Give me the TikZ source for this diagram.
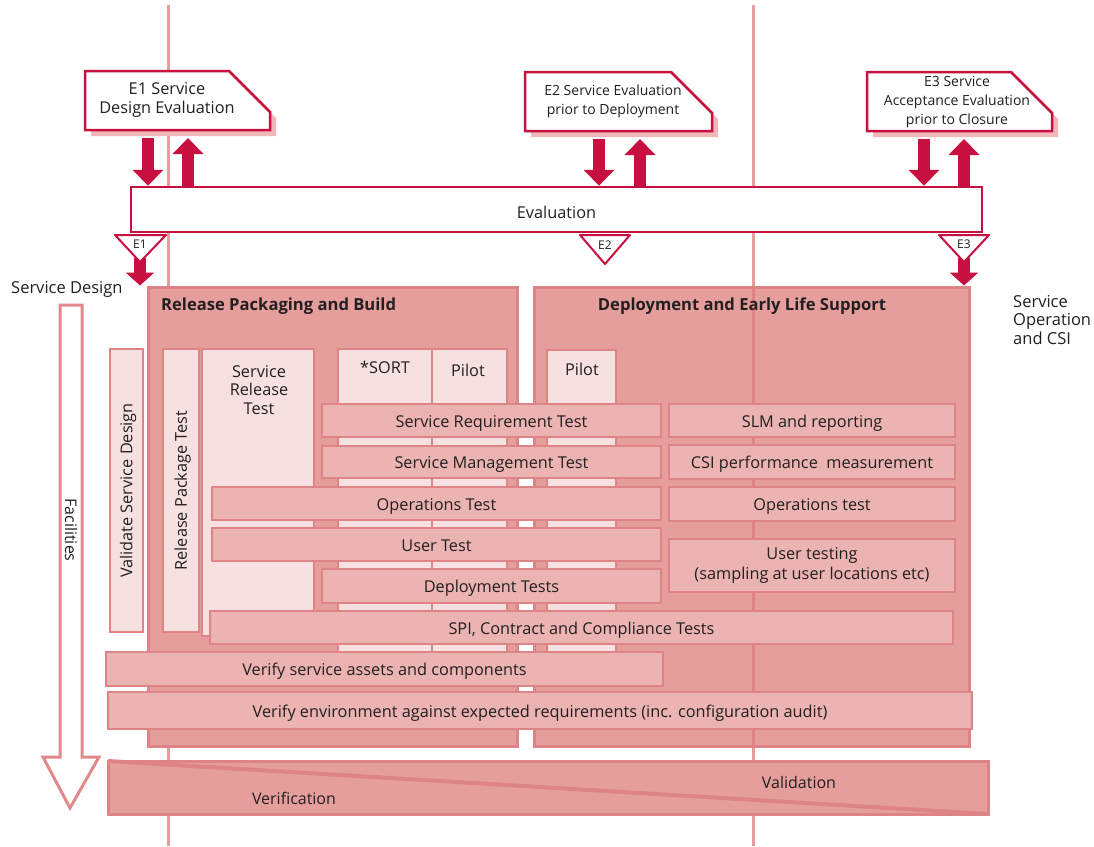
\documentclass[tikz,border=0pt]{standalone}
\usepackage{fontspec}
\setmainfont{Open Sans}
\usetikzlibrary{arrows.meta}
\definecolor{crim}{HTML}{C81040}
\definecolor{pfill}{HTML}{E59E9C}
\definecolor{pline}{HTML}{DE8386}
\definecolor{bfill}{HTML}{EBB3B1}
\definecolor{cfill}{HTML}{F7E1E0}
\definecolor{eshad}{HTML}{F0B8B8}
\definecolor{txt}{HTML}{231F20}
\definecolor{farrow}{HTML}{E08A8C}
\newcommand\fsz[2]{\fontsize{#1}{#2}\selectfont}
\newcommand\drawebox[1]{%
  \fill[eshad] ([shift={(6,6)}]#1.south west) -- ([shift={(6,6)}]#1.south east) -- ([shift={(6,47)}]#1.north east) -- ([shift={(-35,6)}]#1.north east) -- ([shift={(6,6)}]#1.north west) -- cycle;
  \draw[draw=crim,line width=2.5pt,fill=white] (#1.south west) -- (#1.south east) -- ([shift={(0,41)}]#1.north east) -- ([shift={(-41,0)}]#1.north east) -- (#1.north west) -- cycle;}
\begin{document}
\begin{tikzpicture}[x=1pt,y=-1pt,
  every node/.style={text=txt},
  wh/.style 2 args={minimum width=#1pt,minimum height=#2pt},
  einv/.style={rectangle,inner sep=0pt,outer sep=0pt},
  ebar/.style={draw=crim,line width=2.5pt,fill=white,rectangle,inner sep=0pt},
  panel/.style={draw=pline,fill=pfill,line width=3pt,rectangle,inner sep=0pt},
  colbox/.style={draw=pline,fill=cfill,line width=2.5pt,rectangle,inner sep=0pt},
  bar/.style={draw=pline,fill=bfill,line width=2.5pt,rectangle,inner sep=0pt,font=\fsz{16.3}{20},align=center},
  onel/.style={text height=15pt,text depth=1.4pt},
  rotl/.style={text height=13pt,text depth=1.4pt},
  lbl/.style={font=\fsz{16.3}{18.5},align=center,inner sep=0pt},
  bigarr/.style={draw=crim,line width=12pt,-{Triangle[length=16pt,width=30pt]}},
  triarr/.style={draw=crim,line width=12pt,-{Triangle[length=13pt,width=28pt]}},
  tri/.style={draw=crim,line width=2pt,fill=white,line join=round},
  vline/.style={draw=pfill,line width=3pt},
]
\useasboundingbox (0,0) rectangle (1094,846);
\fill[white] (0,0) rectangle (1094,846);
% vertical guide lines
\coordinate (lt) at (168,5); \coordinate (lb) at (168,846);
\coordinate (rt) at (753,5); \coordinate (rb) at (753,846);
\draw[vline] (lt) -- (lb);
\draw[vline] (rt) -- (rb);
% evaluation boxes
\node[einv,wh={185}{59}] (e1) at (177.5,100.5) {};
\node[einv,wh={187}{59}] (e2) at (618.5,101.5) {};
\node[einv,wh={185}{59}] (e3) at (959.5,101.5) {};
\drawebox{e1}\drawebox{e2}\drawebox{e3}
\node[lbl,font=\fsz{16.3}{19}] (e1t) at (167,100) {E1 Service\\Design Evaluation};
\node[lbl,font=\fsz{14}{19}] (e2t) at (613,101) {E2 Service Evaluation\\prior to Deployment};
\node[lbl,font=\fsz{14}{19}] (e3t) at (957,102) {E3 Service\\Acceptance Evaluation\\prior to Closure};
\node[ebar,wh={851}{45},font=\fsz{16.3}{19},text height=17pt,text depth=0pt] (eval) at (556.5,209.5) {Evaluation};
\coordinate (a1) at (148,0); \coordinate (b1) at (188,0);
\coordinate (a2) at (599,0); \coordinate (b2) at (640,0);
\coordinate (a3) at (924,0); \coordinate (b3) at (964,0);
\draw[bigarr,shorten <=8pt] (e1.south -| a1) -- (eval.north -| a1);
\draw[bigarr,shorten >=8pt] (eval.north -| b1) -- (e1.south -| b1);
\draw[bigarr,shorten <=8pt] (e2.south -| a2) -- (eval.north -| a2);
\draw[bigarr,shorten >=8pt] (eval.north -| b2) -- (e2.south -| b2);
\draw[bigarr,shorten <=8pt] (e3.south -| a3) -- (eval.north -| a3);
\draw[bigarr,shorten >=8pt] (eval.north -| b3) -- (e3.south -| b3);
% side labels
\node[anchor=west,inner sep=0pt,font=\fsz{16.5}{19}] (sd) at (11,289) {Service Design};
\node[anchor=north west,inner sep=0pt,align=left,font=\fsz{16.5}{18.5}] (soc) at (1013,295) {Service\\Operation\\and CSI};
% facilities arrow
\draw[draw=farrow,line width=3pt,fill=white] (60,305) -- (82,305) -- (82,757) -- (99,757) -- (70,808) -- (43,757) -- (60,757) -- cycle;
\node[rotate=-90,inner sep=0pt,font=\fsz{16}{18},rotl] (fac) at (71,530) {Facilities};
\node[colbox,wh={283}{33},rotate=90,font=\fsz{16.3}{18},rotl] (vsd) at (126.5,490.5) {Validate Service Design};
% panels
\node[panel,wh={369}{459}] (rpb) at (332.5,516.5) {};
\node[panel,wh={435}{459}] (dels) at (751.5,516.5) {};
\draw[draw=pline,line width=3pt] (dels.north -| rt) -- (dels.south -| rt);
\node[anchor=west,inner sep=0pt,font=\bfseries\fsz{16.6}{18}] (rpbt) at (161,306) {Release Packaging and Build};
\node[inner sep=0pt,font=\bfseries\fsz{16.6}{18}] (delt) at (742,306) {Deployment and Early Life Support};
% triangles and arrows into panels
\coordinate (tp1) at (140,262); \coordinate (tp2) at (605,264); \coordinate (tp3) at (964,262);
\draw[triarr] ([shift={(0,-4)}]tp1) -- (tp1 |- rpb.north);
\draw[triarr] ([shift={(0,-4)}]tp3) -- (tp3 |- dels.north);
\draw[tri] (115,235) -- (166,235) -- (tp1) -- cycle;
\draw[tri] (580,235) -- (630,235) -- (tp2) -- cycle;
\draw[tri] (939,235) -- (989,235) -- (tp3) -- cycle;
\node[inner sep=0pt,font=\fsz{12}{14}] (t1) at (140,244) {E1};
\node[inner sep=0pt,font=\fsz{12}{14}] (t2) at (605,245) {E2};
\node[inner sep=0pt,font=\fsz{12}{14}] (t3) at (964,244) {E3};
% columns
\node[colbox,wh={283}{36},rotate=90,font=\fsz{16.3}{18},rotl] (rpt) at (181,490.5) {Release Package Test};
\node[colbox,wh={112}{287}] (srt) at (258,492.5) {};
\node[lbl] (srtt) at (259,390) {Service\\Release\\Test};
\node[colbox,wh={94}{309}] (sort) at (385,503.5) {};
\node[lbl] (sortt) at (385,367) {*SORT};
\node[colbox,wh={75}{309}] (pil1) at (469.5,503.5) {};
\node[lbl] (pil1t) at (468,370) {Pilot};
\node[colbox,wh={69}{308}] (pil2) at (581.5,504) {};
\node[lbl] (pil2t) at (582,369) {Pilot};
% bars
\node[bar,onel,wh={339}{33}] (srq) at (491.5,420.5) {Service Requirement Test};
\node[bar,onel,wh={339}{32}] (smt) at (491.5,462) {Service Management Test};
\node[bar,onel,wh={449}{33}] (opt) at (436.5,503.5) {Operations Test};
\node[bar,onel,wh={449}{33}] (ut) at (436.5,544.5) {User Test};
\node[bar,onel,wh={339}{34}] (dt) at (491.5,586) {Deployment Tests};
\node[bar,onel,wh={743}{33}] (spi) at (581.5,627.5) {SPI, Contract and Compliance Tests};
\node[bar,onel,wh={286}{33}] (slm) at (812,420.5) {SLM and reporting};
\node[bar,onel,wh={286}{34}] (csi) at (812,462) {CSI performance\ \ measurement};
\node[bar,onel,wh={286}{34}] (ops) at (812,504) {Operations test};
\node[bar,wh={286}{53}] (uts) at (812,565.5) {User testing\\(sampling at user locations etc)};
\node[bar,onel,wh={557}{34}] (vsa) at (384.5,669) {Verify service assets and components};
\node[bar,onel,wh={864}{37}] (ven) at (540,710.5) {Verify environment against expected requirements (inc. configuration audit)};
% validation / verification
\node[panel,wh={880}{53}] (val) at (548,787.5) {};
\draw[draw=pline,line width=4pt] ([shift={(1.5,1.5)}]val.north west) -- ([shift={(-1.5,-1.5)}]val.south east);
\node[inner sep=0pt,font=\fsz{16}{18}] (valt) at (799,782) {Validation};
\node[inner sep=0pt,font=\fsz{16}{18}] (vert) at (294,798) {Verification};
\end{tikzpicture}
\end{document}
